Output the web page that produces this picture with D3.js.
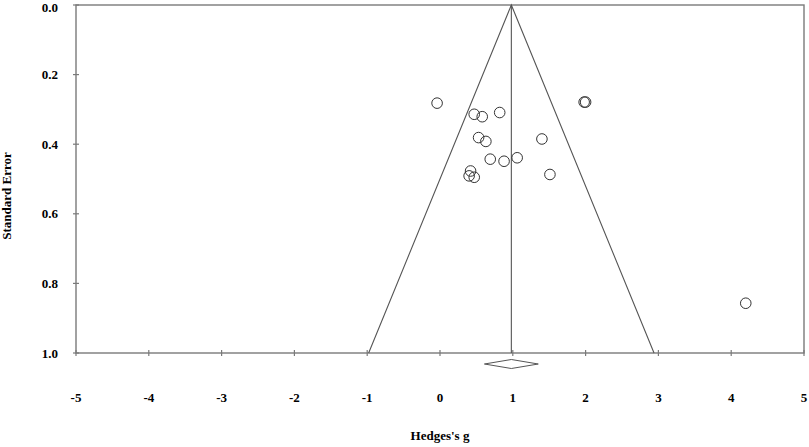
<!DOCTYPE html>
<html>
<head>
<meta charset="utf-8">
<script src="https://cdn.jsdelivr.net/npm/d3@7"></script>
<style>
  html, body { margin: 0; padding: 0; background: #fff; }
  svg text { font-family: "Liberation Serif", "Times New Roman", serif; font-weight: bold; fill: #000; }
</style>
</head>
<body>
<svg id="chart" width="809" height="447"></svg>
<script>
// Study effect sizes (Hedges's g) and standard errors
const hedgesG = [-0.04, 0.47, 0.58, 0.82, 0.53, 0.63, 1.40, 0.69, 0.88, 1.06, 0.42, 0.40, 0.47, 1.51, 1.98, 2.00, 4.20];
const stdErr  = [0.282, 0.314, 0.321, 0.309, 0.381, 0.392, 0.385, 0.443, 0.449, 0.439, 0.477, 0.491, 0.495, 0.487, 0.279, 0.279, 0.857];
// Pooled estimate and its confidence interval (diamond)
const pooled = 0.98;
const pooledCI = [0.61, 1.35];
// Axis ticks
const xTicks = [-5, -4, -3, -2, -1, 0, 1, 2, 3, 4, 5];
const yTicks = [0.0, 0.2, 0.4, 0.6, 0.8, 1.0];

(function () {
const svg = d3.select("#chart");
const mLeft = 76, mRight = 804, mTop = 5, mBottom = 353;

const x = d3.scaleLinear().domain([-5, 5]).range([mLeft, mRight]);
const y = d3.scaleLinear().domain([0, 1]).range([mTop, mBottom]);

const axisColor = "#7a7a7a";

// Frame
svg.append("rect")
  .attr("x", mLeft).attr("y", mTop)
  .attr("width", mRight - mLeft).attr("height", mBottom - mTop)
  .attr("fill", "none").attr("stroke", axisColor).attr("stroke-width", 1.4);

// X ticks (crossing bottom line)
svg.append("g").selectAll("line").data(xTicks).join("line")
  .attr("x1", d => x(d)).attr("x2", d => x(d))
  .attr("y1", mBottom - 3).attr("y2", mBottom + 3)
  .attr("stroke", axisColor).attr("stroke-width", 1.2);

// Y ticks (crossing left line)
svg.append("g").selectAll("line").data(yTicks).join("line")
  .attr("x1", mLeft - 3).attr("x2", mLeft + 3)
  .attr("y1", d => y(d)).attr("y2", d => y(d))
  .attr("stroke", axisColor).attr("stroke-width", 1.2);

// Tick labels
svg.append("g").selectAll("text").data(xTicks).join("text")
  .attr("x", d => x(d)).attr("y", 402)
  .attr("text-anchor", "middle").attr("font-size", 13)
  .text(d => d);

svg.append("g").selectAll("text").data(yTicks).join("text")
  .attr("x", 58).attr("y", d => Math.max(y(d) + 4.5, 11.5))
  .attr("text-anchor", "end").attr("font-size", 13)
  .text(d => d3.format(".1f")(d));

// Axis titles
svg.append("text")
  .attr("x", 440).attr("y", 440)
  .attr("text-anchor", "middle").attr("font-size", 13)
  .text("Hedges's g");

svg.append("text")
  .attr("transform", "translate(11,196) rotate(-90)")
  .attr("text-anchor", "middle").attr("font-size", 13)
  .text("Standard Error");

// Funnel (pseudo 95% limits)
const lineColor = "#555";
const funnel = [[pooled - 1.96 * 1, 1], [pooled, 0], [pooled + 1.96 * 1, 1]];
svg.append("path")
  .attr("d", d3.line().x(d => x(d[0])).y(d => y(d[1]))(funnel))
  .attr("fill", "none").attr("stroke", lineColor).attr("stroke-width", 1.1);

// Vertical line at pooled estimate
svg.append("line")
  .attr("x1", x(pooled)).attr("x2", x(pooled))
  .attr("y1", y(0)).attr("y2", y(1))
  .attr("stroke", lineColor).attr("stroke-width", 1.1);

// Diamond for pooled estimate
const dy = 364, dh = 4.5;
svg.append("path")
  .attr("d", `M${x(pooledCI[0])},${dy} L${x(pooled)},${dy - dh} L${x(pooledCI[1])},${dy} L${x(pooled)},${dy + dh} Z`)
  .attr("fill", "#fff").attr("stroke", lineColor).attr("stroke-width", 1);

// Study points
const pts = hedgesG.map((g, i) => ({ g, se: stdErr[i] }));
svg.append("g").selectAll("circle").data(pts).join("circle")
  .attr("cx", d => x(d.g)).attr("cy", d => y(d.se))
  .attr("r", 5.3)
  .attr("fill", "none").attr("stroke", "#333").attr("stroke-width", 1);
})();
</script>
</body>
</html>
